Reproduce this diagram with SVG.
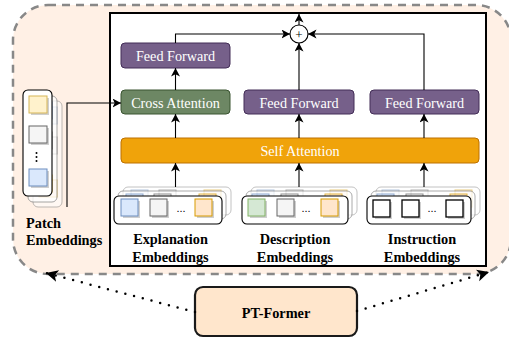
<svg xmlns="http://www.w3.org/2000/svg" width="509" height="339" viewBox="0 0 509 339">
<style>
.blk{font-family:"Liberation Serif","Times New Roman",serif;}
.wt{font-family:"Liberation Serif","Times New Roman",serif;font-size:14.2px;fill:#fff;text-anchor:middle;}
.bd{font-family:"Liberation Serif","Times New Roman",serif;font-size:14.3px;font-weight:bold;fill:#000;}
.ln{fill:none;stroke:#000;stroke-width:1.1;}
.stack{fill:#fff;stroke:#000;stroke-width:1.1;}
.back{fill:#fff;stroke:#888;stroke-width:1;}
.sh{fill:#bbb;opacity:.7;}
.dots{font-family:"Liberation Sans",Arial,sans-serif;font-size:11px;fill:#000;text-anchor:middle;}
</style>
<defs>
<marker id="arr" markerUnits="userSpaceOnUse" markerWidth="10" markerHeight="10" refX="8.5" refY="4.5" orient="auto">
<path d="M0,0 L8.5,4.5 L0,9 L2.2,4.5 z" fill="#000"/>
</marker>
<marker id="arrBig" markerUnits="userSpaceOnUse" markerWidth="14" markerHeight="14" refX="12" refY="6" orient="auto">
<path d="M0,0 L12,6 L0,12 L3,6 z" fill="#000"/>
</marker>
</defs>

<g id="outer">
<rect x="13" y="5" width="498" height="269" rx="35" fill="#FFF0E5" stroke="#888" stroke-width="2.5" stroke-dasharray="8 6"/>
</g>

<g id="transformer">
<rect x="110" y="13" width="376" height="253" fill="#fff" stroke="#000" stroke-width="2"/>
</g>

<g id="ff1">
<rect x="121" y="43" width="109" height="25" rx="4" fill="#76608A" stroke="#432D57"/>
<text class="wt" x="175.5" y="61">Feed Forward</text>
</g>
<g id="cross-attention">
<rect x="121" y="90" width="109" height="24" rx="4" fill="#6D8764" stroke="#3A5431"/>
<text class="wt" x="175.5" y="108">Cross Attention</text>
</g>
<g id="ff2">
<rect x="244" y="90" width="110" height="24" rx="4" fill="#76608A" stroke="#432D57"/>
<text class="wt" x="299" y="108">Feed Forward</text>
</g>
<g id="ff3">
<rect x="370" y="90" width="109" height="24" rx="4" fill="#76608A" stroke="#432D57"/>
<text class="wt" x="424.5" y="108">Feed Forward</text>
</g>
<g id="self-attention">
<rect x="121" y="138" width="358" height="25" rx="4" fill="#F0A30A" stroke="#BD7000"/>
<text class="wt" x="300" y="156">Self Attention</text>
</g>
<g id="sum">
<circle cx="299" cy="34" r="9" fill="#fff" stroke="#000" stroke-width="1.1"/>
<text class="blk" x="299" y="38.5" font-size="13" text-anchor="middle">+</text>
</g>

<g id="patch-embeddings">
<g opacity="0.55">
<rect class="back" x="33" y="101" width="29" height="106" rx="5"/>
<rect x="39" y="107" width="18" height="17" fill="#DAE8FC" stroke="#6C8EBF"/>
<rect x="39" y="137" width="18" height="17" fill="#F5F5F5" stroke="#666"/>
<rect x="39" y="180" width="18" height="17" fill="#FFE6CC" stroke="#D79B00"/>
</g>
<g opacity="0.75">
<rect class="back" x="28" y="96" width="29" height="106" rx="5"/>
<rect x="34" y="102" width="18" height="17" fill="#DAE8FC" stroke="#6C8EBF"/>
<rect x="34" y="132" width="18" height="17" fill="#F5F5F5" stroke="#666"/>
<rect x="34" y="175" width="18" height="17" fill="#FFE6CC" stroke="#D79B00"/>
</g>
<rect class="stack" x="23" y="90" width="29" height="106" rx="5"/>
<rect class="sh" x="31" y="98" width="18" height="17"/>
<rect x="29" y="96" width="18" height="17" fill="#FFF2CC" stroke="#D6B656"/>
<rect class="sh" x="31" y="128" width="18" height="17"/>
<rect x="29" y="126" width="18" height="17" fill="#F5F5F5" stroke="#666"/>
<circle cx="36.5" cy="153" r="1"/>
<circle cx="36.5" cy="157" r="1"/>
<circle cx="36.5" cy="161" r="1"/>
<rect class="sh" x="31" y="171" width="18" height="17"/>
<rect x="29" y="169" width="18" height="17" fill="#DAE8FC" stroke="#6C8EBF"/>
<text class="bd" x="26" y="228">Patch</text>
<text class="bd" x="26" y="245">Embeddings</text>
</g>

<g id="explanation-embeddings">
<g opacity="0.5">
<rect class="back" x="123" y="187" width="108" height="28" rx="5"/>
<rect x="131" y="190" width="17" height="17" fill="#DAE8FC" stroke="#6C8EBF"/>
<rect x="159" y="190" width="17" height="17" fill="#F5F5F5" stroke="#666"/>
<rect x="204" y="190" width="17" height="17" fill="#FFE6CC" stroke="#D79B00"/>
</g>
<g opacity="0.7">
<rect class="back" x="118" y="191" width="108" height="28" rx="5"/>
<rect x="126" y="194" width="17" height="17" fill="#DAE8FC" stroke="#6C8EBF"/>
<rect x="154" y="194" width="17" height="17" fill="#F5F5F5" stroke="#666"/>
<rect x="199" y="194" width="17" height="17" fill="#FFE6CC" stroke="#D79B00"/>
</g>
<rect class="stack" x="114" y="196" width="108" height="28" rx="5"/>
<rect class="sh" x="123" y="201" width="17" height="17"/>
<rect x="121" y="199" width="17" height="17" fill="#DAE8FC" stroke="#6C8EBF"/>
<rect class="sh" x="152" y="201" width="17" height="17"/>
<rect x="150" y="199" width="17" height="17" fill="#F5F5F5" stroke="#666"/>
<text class="dots" x="181" y="212">...</text>
<rect class="sh" x="197" y="201" width="17" height="17"/>
<rect x="195" y="199" width="17" height="17" fill="#FFE6CC" stroke="#D79B00"/>
<text class="bd" x="170.5" y="244" text-anchor="middle">Explanation</text>
<text class="bd" x="170.5" y="262" text-anchor="middle">Embeddings</text>
</g>

<g id="description-embeddings">
<g opacity="0.5">
<rect class="back" x="251" y="187" width="106" height="28" rx="5"/>
<rect x="257" y="190" width="17" height="17" fill="#DAE8FC" stroke="#6C8EBF"/>
<rect x="286" y="190" width="17" height="17" fill="#F5F5F5" stroke="#666"/>
<rect x="330" y="190" width="17" height="17" fill="#FFE6CC" stroke="#D79B00"/>
</g>
<g opacity="0.7">
<rect class="back" x="246" y="191" width="106" height="28" rx="5"/>
<rect x="252" y="194" width="17" height="17" fill="#DAE8FC" stroke="#6C8EBF"/>
<rect x="281" y="194" width="17" height="17" fill="#F5F5F5" stroke="#666"/>
<rect x="325" y="194" width="17" height="17" fill="#FFE6CC" stroke="#D79B00"/>
</g>
<rect class="stack" x="242" y="196" width="106" height="28" rx="5"/>
<rect class="sh" x="250" y="201" width="17" height="17"/>
<rect x="248" y="199" width="17" height="17" fill="#D5E8D4" stroke="#82B366"/>
<rect class="sh" x="279" y="201" width="17" height="17"/>
<rect x="277" y="199" width="17" height="17" fill="#F5F5F5" stroke="#666"/>
<text class="dots" x="306" y="212">...</text>
<rect class="sh" x="323" y="201" width="17" height="17"/>
<rect x="321" y="199" width="17" height="17" fill="#FFE6CC" stroke="#D79B00"/>
<text class="bd" x="295" y="244" text-anchor="middle">Description</text>
<text class="bd" x="295" y="262" text-anchor="middle">Embeddings</text>
</g>

<g id="instruction-embeddings">
<g opacity="0.5">
<rect class="back" x="376" y="187" width="104" height="28" rx="5"/>
<rect x="382" y="190" width="17" height="17" fill="#DAE8FC" stroke="#6C8EBF"/>
<rect x="411" y="190" width="17" height="17" fill="#F5F5F5" stroke="#666"/>
<rect x="455" y="190" width="17" height="17" fill="#FFE6CC" stroke="#D79B00"/>
</g>
<g opacity="0.7">
<rect class="back" x="371" y="191" width="104" height="28" rx="5"/>
<rect x="377" y="194" width="17" height="17" fill="#DAE8FC" stroke="#6C8EBF"/>
<rect x="406" y="194" width="17" height="17" fill="#F5F5F5" stroke="#666"/>
<rect x="450" y="194" width="17" height="17" fill="#FFE6CC" stroke="#D79B00"/>
</g>
<rect class="stack" x="367" y="196" width="104" height="28" rx="5"/>
<rect class="sh" x="375" y="202" width="17" height="17"/>
<rect x="373" y="200" width="17" height="17" fill="#fff" stroke="#000" stroke-width="1.3"/>
<rect class="sh" x="404" y="202" width="17" height="17"/>
<rect x="402" y="200" width="17" height="17" fill="#fff" stroke="#000" stroke-width="1.3"/>
<text class="dots" x="432" y="212">...</text>
<rect class="sh" x="448" y="202" width="17" height="17"/>
<rect x="446" y="200" width="17" height="17" fill="#fff" stroke="#000" stroke-width="1.3"/>
<text class="bd" x="422" y="244" text-anchor="middle">Instruction</text>
<text class="bd" x="422" y="262" text-anchor="middle">Embeddings</text>
</g>

<g id="pt-former">
<rect x="195" y="287" width="162" height="49" rx="8" fill="#FFE6CC" stroke="#1a1a1a" stroke-width="2.2"/>
<text class="bd" x="276" y="318" text-anchor="middle" font-size="14">PT-Former</text>
</g>

<g id="connectors">
<path class="ln" d="M299,25 V14" marker-end="url(#arr)"/>
<path class="ln" d="M175.5,43 V34 H290" marker-end="url(#arr)"/>
<path class="ln" d="M424,90 V34 H308" marker-end="url(#arr)"/>
<path class="ln" d="M299,90 V43" marker-end="url(#arr)"/>
<path class="ln" d="M175.5,90 V68" marker-end="url(#arr)"/>
<path class="ln" d="M175.5,138 V114" marker-end="url(#arr)"/>
<path class="ln" d="M299,138 V114" marker-end="url(#arr)"/>
<path class="ln" d="M424,138 V114" marker-end="url(#arr)"/>
<path class="ln" d="M175.5,187 V163" marker-end="url(#arr)"/>
<path class="ln" d="M299,187 V163" marker-end="url(#arr)"/>
<path class="ln" d="M424,187 V163" marker-end="url(#arr)"/>
<path class="ln" d="M67,207 V103 H121" stroke="#333" marker-end="url(#arr)"/>
<path d="M195,312 L46,273" fill="none" stroke="#000" stroke-width="2.5" stroke-linecap="round" stroke-dasharray="0 9" marker-end="url(#arrBig)"/>
<path d="M357,311 L489,272" fill="none" stroke="#000" stroke-width="2.5" stroke-linecap="round" stroke-dasharray="0 9" marker-end="url(#arrBig)"/>
</g>
</svg>
